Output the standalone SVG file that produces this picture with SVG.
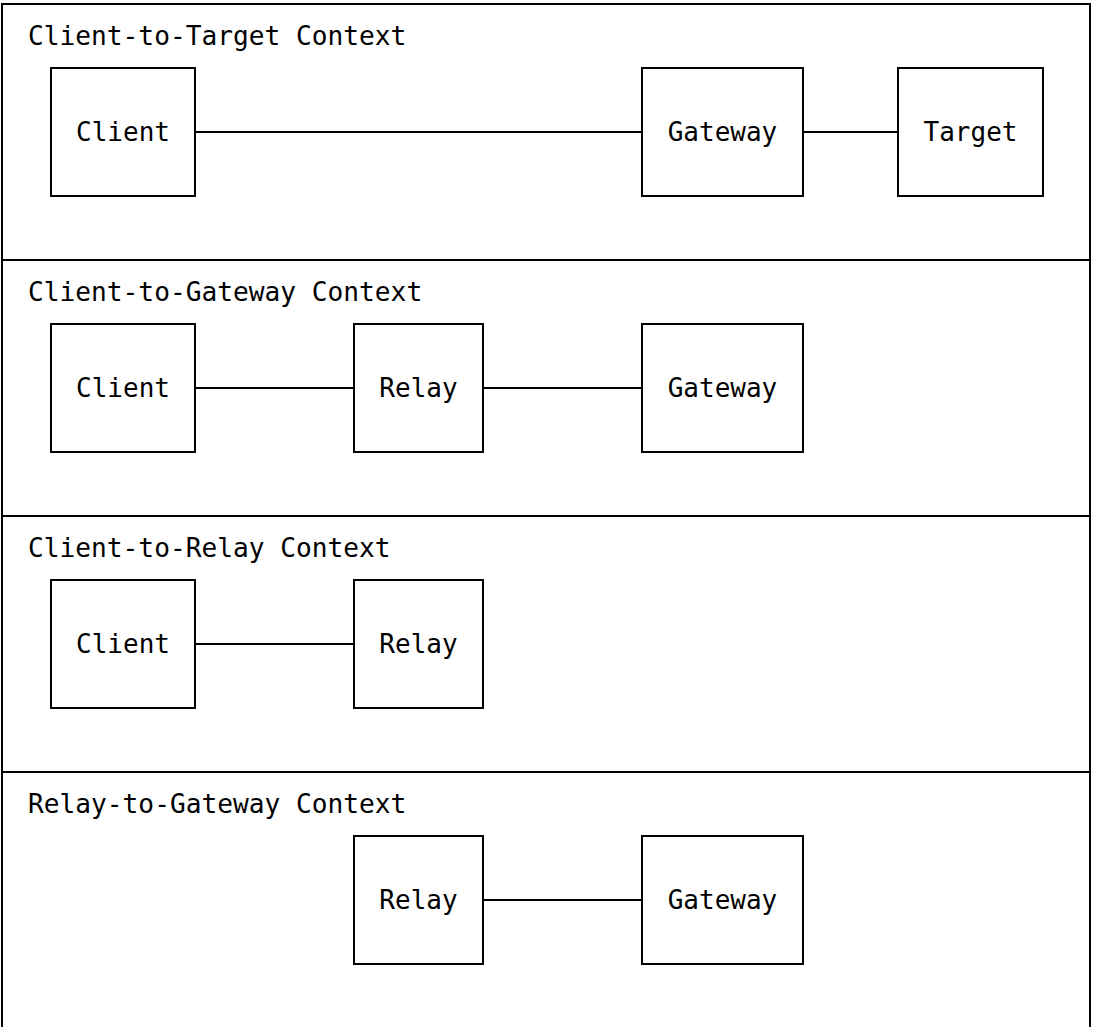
<svg xmlns="http://www.w3.org/2000/svg" width="1094" height="1027" viewBox="0 0 1094 1027">
  <style>
    .frame { fill: #ffffff; stroke: #000000; stroke-width: 2; }
    .box { fill: #ffffff; stroke: #000000; stroke-width: 2; }
    .link { stroke: #000000; stroke-width: 2; fill: none; }
    .title { font-family: "DejaVu Sans Mono", "Liberation Mono", monospace; font-size: 26.2px; fill: #000000; }
    .label { font-family: "DejaVu Sans Mono", "Liberation Mono", monospace; font-size: 26px; fill: #000000; text-anchor: middle; }
  </style>

  <!-- outer frame and context bands -->
  <g id="frame">
    <rect class="frame" x="2" y="4" width="1088" height="1040"/>
    <line class="link" x1="2" y1="260" x2="1090" y2="260"/>
    <line class="link" x1="2" y1="516" x2="1090" y2="516"/>
    <line class="link" x1="2" y1="772" x2="1090" y2="772"/>
  </g>

  <!-- band titles -->
  <g id="titles">
    <text class="title" x="28" y="45">Client-to-Target Context</text>
    <text class="title" x="28" y="301">Client-to-Gateway Context</text>
    <text class="title" x="28" y="557">Client-to-Relay Context</text>
    <text class="title" x="28" y="813">Relay-to-Gateway Context</text>
  </g>

  <!-- connectors -->
  <g id="connectors">
    <line class="link" x1="195" y1="132" x2="642" y2="132"/>
    <line class="link" x1="803" y1="132" x2="898" y2="132"/>
    <line class="link" x1="195" y1="388" x2="354" y2="388"/>
    <line class="link" x1="483" y1="388" x2="642" y2="388"/>
    <line class="link" x1="195" y1="644" x2="354" y2="644"/>
    <line class="link" x1="483" y1="900" x2="642" y2="900"/>
  </g>

  <!-- Client-to-Target band -->
  <g id="ct-client">
    <rect class="box" x="51" y="68" width="144" height="128"/>
    <text class="label" x="123" y="141">Client</text>
  </g>
  <g id="ct-gateway">
    <rect class="box" x="642" y="68" width="161" height="128"/>
    <text class="label" x="722.5" y="141">Gateway</text>
  </g>
  <g id="ct-target">
    <rect class="box" x="898" y="68" width="145" height="128"/>
    <text class="label" x="970.5" y="141">Target</text>
  </g>

  <!-- Client-to-Gateway band -->
  <g id="cg-client">
    <rect class="box" x="51" y="324" width="144" height="128"/>
    <text class="label" x="123" y="397">Client</text>
  </g>
  <g id="cg-relay">
    <rect class="box" x="354" y="324" width="129" height="128"/>
    <text class="label" x="418.5" y="397">Relay</text>
  </g>
  <g id="cg-gateway">
    <rect class="box" x="642" y="324" width="161" height="128"/>
    <text class="label" x="722.5" y="397">Gateway</text>
  </g>

  <!-- Client-to-Relay band -->
  <g id="cr-client">
    <rect class="box" x="51" y="580" width="144" height="128"/>
    <text class="label" x="123" y="653">Client</text>
  </g>
  <g id="cr-relay">
    <rect class="box" x="354" y="580" width="129" height="128"/>
    <text class="label" x="418.5" y="653">Relay</text>
  </g>

  <!-- Relay-to-Gateway band -->
  <g id="rg-relay">
    <rect class="box" x="354" y="836" width="129" height="128"/>
    <text class="label" x="418.5" y="909">Relay</text>
  </g>
  <g id="rg-gateway">
    <rect class="box" x="642" y="836" width="161" height="128"/>
    <text class="label" x="722.5" y="909">Gateway</text>
  </g>
</svg>
